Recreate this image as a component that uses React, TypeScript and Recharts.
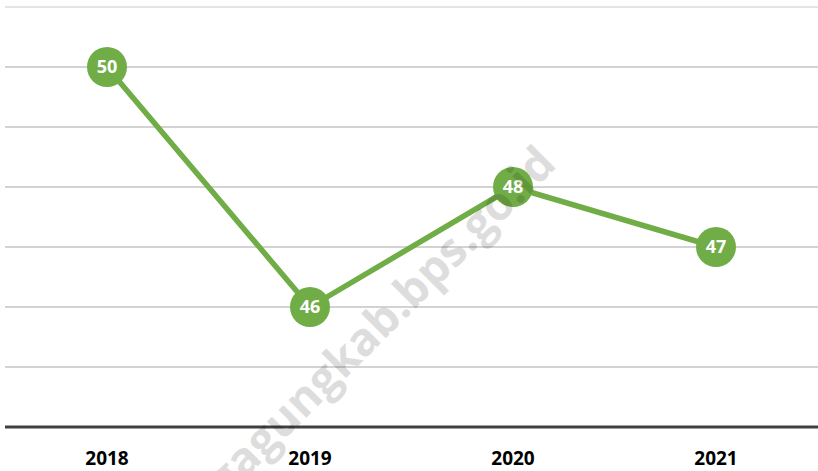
import { LineChart, Line, XAxis, YAxis, CartesianGrid, LabelList, ReferenceLine } from "recharts";

const years = ["2018", "2019", "2020", "2021"];
const values = [50, 46, 48, 47];
const yTicks = [44, 45, 46, 47, 48, 49, 50, 51];

const chartData = years.map((y, i) => ({ year: y, value: values[i] }));

const GREEN = "#70ad47";

const Marker = (props: any) => {
  const { cx, cy } = props;
  if (cx == null || cy == null) return null;
  return <circle cx={cx} cy={cy} r={20} fill={GREEN} />;
};

export default function App() {
  return (
    <div style={{ position: "absolute", left: 0, top: 0, width: 818, height: 471, background: "#fff", overflow: "hidden" }}>
      <LineChart
        width={818}
        height={471}
        data={chartData}
        margin={{ top: 7, right: 0, bottom: 0, left: 5 }}
      >
        <CartesianGrid vertical={false} stroke="#c4c4c4" strokeWidth={1.5} />
        <ReferenceLine y={51} stroke="#e4e4e4" strokeWidth={2} />
        <YAxis hide domain={[44, 51]} ticks={yTicks} />
        <XAxis
          dataKey="year"
          padding={{ left: 102, right: 102 }}
          height={44}
          tickLine={false}
          axisLine={{ stroke: "#404040", strokeWidth: 3 }}
          tick={{ fill: "#000", fontSize: 19, fontWeight: 700, fontFamily: "Open Sans" }}
          dy={17}
        />
        <Line
          type="linear"
          dataKey="value"
          stroke={GREEN}
          strokeWidth={5.5}
          dot={<Marker />}
          activeDot={false}
          isAnimationActive={false}
        >
          <LabelList
            dataKey="value"
            position="center"
            fill="#fff"
            fontSize={18}
            fontWeight={700}
            fontFamily="Open Sans"
          />
        </Line>
      </LineChart>
      <svg width={818} height={471} style={{ position: "absolute", left: 0, top: 0, pointerEvents: "none" }}>
        <text
          x={558}
          y={166}
          textAnchor="end"
          transform="rotate(-45 558 166)"
          fontFamily="Open Sans"
          fontWeight={700}
          fontSize={46}
          fill="#000"
          opacity={0.13}
        >
          tulungagungkab.bps.go.id
        </text>
      </svg>
    </div>
  );
}
